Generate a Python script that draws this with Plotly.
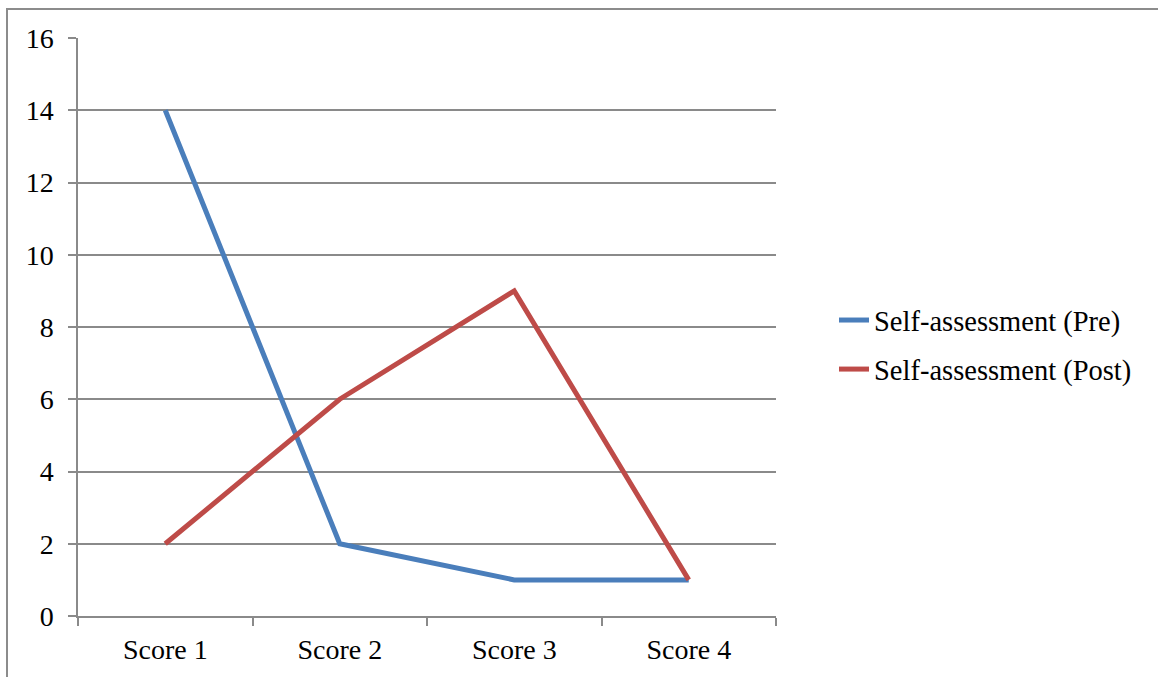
import plotly.graph_objects as go

categories = ["Score 1", "Score 2", "Score 3", "Score 4"]
pre_values = [14, 2, 1, 1]
post_values = [2, 6, 9, 1]
y_ticks = [0, 2, 4, 6, 8, 10, 12, 14, 16]

FONT = "Liberation Serif"
GRID = "#8a8a8a"

fig = go.Figure()
fig.add_trace(go.Scatter(x=categories, y=pre_values, mode="lines",
                         name="Self-assessment (Pre)", legendgroup="a",
                         line=dict(color="#4A7EBB", width=5)))
fig.add_trace(go.Scatter(x=categories, y=post_values, mode="lines",
                         name="Self-assessment (Post)", legendgroup="b",
                         line=dict(color="#BE4B48", width=5)))

W, H = 1158, 677
L, R, T, B = 78, 382, 38, 61
pw, ph = W - L - R, H - T - B

fig.update_layout(
    width=W, height=H,
    margin=dict(l=L, r=R, t=T, b=B, autoexpand=False),
    paper_bgcolor="white", plot_bgcolor="white",
    font=dict(family=FONT, size=27, color="black"),
    showlegend=True,
    legend=dict(x=(834 - L) / pw, y=1 - (345 - T) / ph, xanchor="left", yanchor="middle",
                traceorder="grouped", tracegroupgap=9,
                font=dict(family=FONT, size=28.5, color="black"),
                bgcolor="rgba(0,0,0,0)"),
    xaxis=dict(type="category", range=[-0.5, 3.5], tickson="boundaries",
               ticks="outside", ticklen=8, tickcolor=GRID, tickwidth=1.5,
               showline=True, linecolor=GRID, linewidth=1.5,
               showgrid=False, zeroline=False, ticklabelstandoff=8,
               automargin=False,
               tickfont=dict(family=FONT, size=28)),
    yaxis=dict(range=[0, 16], tickvals=y_ticks,
               ticks="outside", ticklen=8, tickcolor=GRID, tickwidth=1.5,
               showline=True, linecolor=GRID, linewidth=1.5,
               showgrid=True, gridcolor=GRID, gridwidth=1.5,
               zeroline=False, ticklabelstandoff=9, automargin=False,
               tickfont=dict(family=FONT, size=28)),
    shapes=[dict(type="rect", xref="paper", yref="paper",
                 x0=(7 - L) / pw, x1=(W + 20 - L) / pw,
                 y0=-(B + 20) / ph, y1=1 + (T - 9) / ph,
                 line=dict(color="#8c8c8c", width=2), fillcolor="rgba(0,0,0,0)",
                 layer="below")],
)

fig.write_html("out.html", config={"displayModeBar": False},
               post_script="document.body.style.margin='0';")
